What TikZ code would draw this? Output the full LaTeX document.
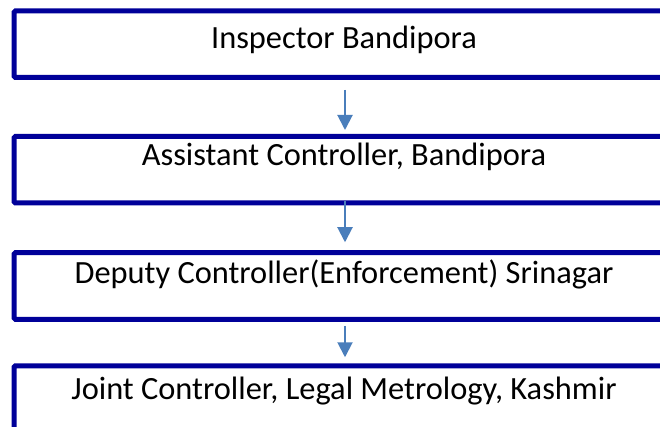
\documentclass[tikz,border=0pt]{standalone}
\usepackage{fontspec}
\setmainfont{Carlito}
\usetikzlibrary{arrows.meta}
\definecolor{boxblue}{RGB}{0,0,153}
\definecolor{arrblue}{RGB}{74,126,187}
\tikzset{
  orgbox/.style={draw=boxblue, line width=5pt, rounded corners=1.5pt, rectangle,
    minimum width=660pt, minimum height=66.5pt, inner sep=0pt},
  orglabel/.style={anchor=base, inner sep=0pt, font=\fontsize{32.4}{38}\selectfont},
  arr/.style={draw=arrblue, line width=2pt, -{Triangle[length=15pt,width=15pt]}}
}
\begin{document}
\begin{tikzpicture}[x=1pt,y=-1pt]
\clip (0,0) rectangle (660,427);
\fill[white] (0,0) rectangle (660,427);
\node[orgbox] (b1) at (344,44.25) {};
\node[orgbox] (b2) at (344,169.75) {};
\node[orgbox] (b3) at (344,286) {};
\node[orgbox] (b4) at (344,399) {};
\node[orglabel] (t1) at (344,49) {Inspector Bandipora};
\node[orglabel] (t2) at (344,166) {Assistant Controller, Bandipora};
\node[orglabel] (t3) at (344,283) {Deputy Controller(Enforcement) Srinagar};
\node[orglabel] (t4) at (344,399) {Joint Controller, Legal Metrology, Kashmir};
\draw[arr] ([xshift=1pt,yshift=-10pt]b1.south) -- ([xshift=1pt,yshift=4pt]b2.north);
\draw[arr] ([xshift=1pt,yshift=4pt]b2.south) -- ([xshift=1pt,yshift=8pt]b3.north);
\draw[arr] ([xshift=1pt,yshift=-4pt]b3.south) -- ([xshift=1pt,yshift=6pt]b4.north);
\end{tikzpicture}
\end{document}
